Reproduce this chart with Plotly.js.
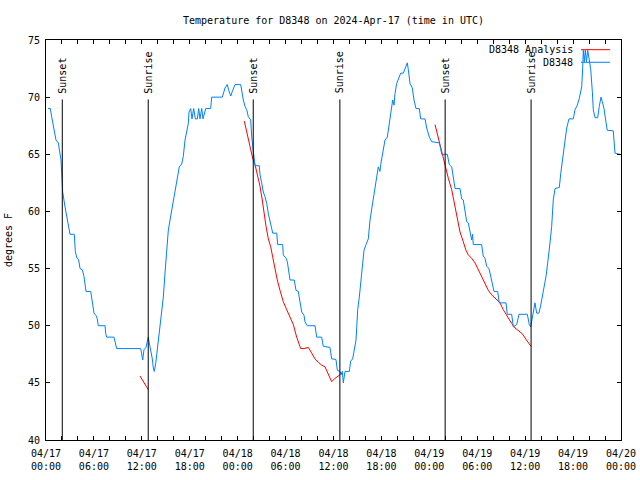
<!DOCTYPE html>
<html>
<head>
<meta charset="utf-8">
<script src="https://cdn.plot.ly/plotly-3.0.1.min.js"></script>
<style>html,body{margin:0;padding:0;background:#fff;}#chart{width:640px;height:480px;}</style>
</head>
<body>
<div id="chart"></div>
<script>
// Hours since 2024-04-17 00:00 UTC
const START_UTC = Date.UTC(2024, 3, 17);

// Observed D8348 temperature (deg F)
const obsHours = [0.25,0.54,0.71,1.00,1.25,1.54,1.75,1.88,2.00,2.09,2.38,2.59,2.79,3.01,3.54,3.67,3.84,4.09,4.26,4.55,4.76,4.88,5.01,5.60,5.72,5.92,6.01,6.26,6.42,6.55,7.39,7.48,7.60,8.51,8.77,8.85,11.86,11.98,12.11,12.27,12.52,12.68,12.81,12.93,13.11,13.31,13.44,13.56,13.74,13.94,14.15,14.27,14.49,14.69,14.90,15.11,15.31,15.53,15.74,16.03,16.24,16.44,16.69,16.99,17.19,17.41,17.62,17.82,17.91,18.12,18.28,18.49,18.70,18.95,19.12,19.28,19.50,19.66,20.00,20.62,20.75,22.08,22.41,22.70,22.88,23.13,23.38,23.67,24.38,24.51,24.71,24.92,25.13,25.33,25.63,25.76,25.88,26.05,26.17,26.71,26.80,27.01,27.21,27.42,27.64,27.84,28.05,28.26,28.39,28.89,29.01,29.64,29.71,30.05,30.22,30.47,30.55,31.09,31.30,31.59,31.81,32.02,32.31,32.43,32.72,33.68,33.90,34.52,34.72,35.56,35.77,36.31,36.48,36.81,36.94,37.10,37.23,37.44,37.98,38.15,38.40,38.57,38.82,38.91,39.03,39.23,39.41,39.66,39.82,40.07,40.36,40.57,40.78,40.98,41.20,41.41,41.61,41.82,41.91,42.16,42.32,42.45,42.74,42.95,43.16,43.41,43.58,43.70,43.91,44.11,44.42,44.74,45.04,45.24,45.37,45.58,45.87,46.08,46.33,46.74,46.92,47.46,47.67,48.00,48.30,49.25,49.42,49.55,50.25,50.50,50.80,51.00,51.22,51.84,52.05,52.25,52.47,52.68,52.88,53.09,53.30,53.42,53.50,54.55,54.75,54.97,55.18,55.47,55.68,55.93,56.10,56.56,56.76,57.60,57.76,58.31,58.52,58.94,59.23,60.27,60.52,60.69,60.82,61.02,61.23,61.44,61.73,61.95,62.15,62.36,62.61,62.82,63.02,63.15,63.32,63.52,63.74,64.28,64.45,64.70,64.99,65.20,65.49,66.03,66.24,66.53,66.78,67.08,67.21,67.28,67.41,67.53,67.68,67.83,68.03,68.21,68.41,68.53,68.75,69.08,69.28,69.50,69.66,69.87,70.08,70.28,71.03,71.25,71.87];
const obsTemp = [69.0,69.0,68.3,67.3,66.25,66.0,65.1,64.5,62.8,61.7,60.4,59.5,58.8,58.0,58.0,56.5,56.0,55.75,55.0,54.9,54.3,53.7,53.0,53.0,52.4,51.7,51.1,50.9,50.6,50.0,50.0,49.3,49.0,49.0,48.3,48.0,48.0,47.3,47.0,47.9,48.1,48.6,49.0,48.5,47.9,47.1,46.3,46.0,46.7,47.9,49.0,49.6,51.4,52.5,54.6,56.5,58.3,59.25,60.1,61.0,61.9,62.9,63.9,64.15,64.8,66.25,67.1,67.7,68.7,69.0,68.1,69.0,68.1,68.1,69.0,68.1,69.0,68.1,69.0,69.0,70.0,70.0,70.8,71.1,70.6,70.1,70.6,71.1,71.1,70.5,69.75,69.2,68.9,68.3,68.0,66.5,65.7,64.8,64.0,64.0,63.2,62.5,61.7,61.3,60.7,59.8,59.1,58.5,58.1,58.1,57.1,57.1,56.2,55.9,55.6,54.4,54.0,54.0,53.1,53.0,52.1,51.2,50.9,50.35,50.0,50.0,49.0,49.0,48.2,48.1,47.1,47.05,46.1,46.0,45.7,46.0,45.0,46.0,46.0,46.9,47.1,47.9,48.75,49.9,51.4,52.5,53.7,55.5,56.6,57.1,57.6,59.25,60.1,61.0,61.9,63.0,63.9,63.5,64.1,65.1,66.0,66.25,66.5,67.4,68.6,69.75,69.3,70.3,71.2,71.5,72.1,72.1,72.7,73.0,72.4,71.2,70.8,69.75,69.0,69.0,68.1,68.1,67.3,66.5,66.1,66.0,65.5,65.0,65.0,64.1,63.9,63.0,62.0,62.0,61.1,61.0,59.8,59.1,59.0,58.1,57.5,58.0,57.1,57.1,56.1,55.9,55.2,55.0,54.3,53.4,53.0,53.0,52.0,52.0,51.0,51.0,49.9,50.1,51.0,51.0,50.1,49.9,50.5,51.2,52.0,51.1,51.1,51.8,52.5,53.3,54.3,55.5,56.5,57.5,58.7,61.0,62.0,62.1,63.3,64.8,66.25,67.3,68.1,68.1,68.9,69.3,69.9,70.9,72.7,74.1,73.1,74.1,73.1,74.1,73.25,72.4,70.5,68.9,68.2,68.2,69.2,70.0,69.6,69.0,68.0,67.1,67.05,65.1,65.0];

// Analysis (three overnight segments, null = gap)
const anaHours = [11.77,12.27,12.81,null,
  24.83,25.21,25.54,25.88,26.17,26.46,26.80,27.08,27.30,27.55,27.84,28.14,28.39,28.68,28.96,29.30,29.71,30.14,30.55,30.97,31.39,31.72,31.89,32.31,32.85,33.27,33.68,34.10,34.52,34.94,35.35,35.77,36.19,36.81,null,
  48.71,49.12,49.55,49.96,50.38,50.80,51.22,51.50,51.84,52.25,52.59,52.88,53.30,53.72,54.13,54.55,54.97,55.38,55.81,56.35,56.85,57.26,57.76,58.31,58.73,59.14,59.64,60.11,60.40,60.73];
const anaTemp = [45.6,45.0,44.4,null,
  67.9,66.7,65.7,64.65,64.1,63.3,62.2,61.0,59.8,58.7,57.6,56.9,56.0,54.9,54.0,53.1,52.1,51.4,50.8,50.1,49.0,48.3,48.0,48.0,48.1,47.6,47.1,46.8,46.55,46.4,45.8,45.1,45.4,45.7,null,
  67.6,66.4,65.2,63.9,62.9,61.9,60.4,59.25,58.2,57.35,56.6,56.2,55.9,55.5,54.9,54.2,53.6,53.1,52.7,52.3,52.0,51.4,50.8,50.2,49.8,49.6,49.3,48.8,48.5,48.2];

// Sun events (hours since start)
const sunsetHours = [2.04, 25.95, 49.98];
const sunriseHours = [12.80, 36.80, 60.74];

const seriesNames = ['D8348 Analysis', 'D8348'];
const seriesColors = ['#ff0000', '#0080ff'];

function hToDate(h) {
  if (h === null) return null;
  const d = new Date(START_UTC + Math.round(h * 3600000));
  return d.toISOString().replace('T', ' ').slice(0, 19);
}

const FONT = 'DejaVu Sans Mono, Liberation Mono, monospace';

const traces = [
  {x: anaHours.map(hToDate), y: anaTemp, type: 'scatter', mode: 'lines', name: seriesNames[0],
   line: {color: seriesColors[0], width: 1}, connectgaps: false},
  {x: obsHours.map(hToDate), y: obsTemp, type: 'scatter', mode: 'lines', name: seriesNames[1],
   line: {color: seriesColors[1], width: 1}}
];

const shapes = [];
const annotations = [];
const LINE_TOP = 69.8;
function addSun(h, label) {
  const xd = hToDate(h);
  shapes.push({type: 'line', xref: 'x', yref: 'y', x0: xd, x1: xd, y0: 40, y1: LINE_TOP,
               line: {color: '#000', width: 1}});
  annotations.push({xref: 'x', yref: 'y', x: xd, y: LINE_TOP, text: label, showarrow: false,
                    textangle: -90, xanchor: 'center', yanchor: 'bottom', yshift: 4,
                    font: {family: FONT, size: 10, color: '#000'}});
}
sunsetHours.forEach(h => addSun(h, 'Sunset'));
sunriseHours.forEach(h => addSun(h, 'Sunrise'));

// Manual legend (text right-aligned, sample line to the right)
const legY = [0.9758, 0.9443];
seriesNames.forEach((nm, i) => {
  annotations.push({xref: 'paper', yref: 'paper', x: 0.9195, y: legY[i], text: nm, showarrow: false,
                    xanchor: 'right', yanchor: 'middle', font: {family: FONT, size: 10, color: '#000'}});
  shapes.push({type: 'line', xref: 'paper', yref: 'paper', x0: 0.9304, x1: 0.9809, y0: legY[i], y1: legY[i],
               line: {color: seriesColors[i], width: 1}});
});

const layout = {
  width: 640, height: 480,
  margin: {l: 46, r: 19, t: 40, b: 40, pad: 0},
  paper_bgcolor: '#fff', plot_bgcolor: '#fff',
  showlegend: false,
  font: {family: FONT, size: 10, color: '#000'},
  title: {text: 'Temperature for D8348 on 2024-Apr-17 (time in UTC)', x: 0.5, xref: 'paper',
          y: 1 - 20 / 480, yref: 'container', yanchor: 'middle', xanchor: 'center',
          font: {family: FONT, size: 10, color: '#000'}},
  xaxis: {type: 'date', range: ['2024-04-17 00:00:00', '2024-04-20 00:00:00'],
          tick0: '2024-04-17 00:00:00', dtick: 6 * 3600000, tickformat: '%m/%d<br>%H:%M',
          ticks: 'inside', ticklen: 4, tickcolor: '#000', showline: true, linecolor: '#000', linewidth: 1,
          mirror: 'ticks', showgrid: false, zeroline: false, ticklabelstandoff: 4,
          minor: {dtick: 2 * 3600000, ticks: 'inside', ticklen: 4, tickcolor: '#000', showgrid: false},
          tickfont: {family: FONT, size: 10, color: '#000'}, automargin: false},
  yaxis: {range: [40, 75], dtick: 5, tick0: 40, ticks: 'inside', ticklen: 4, tickcolor: '#000',
          showline: true, linecolor: '#000', linewidth: 1, mirror: 'ticks', showgrid: false, zeroline: false,
          ticklabelstandoff: 3,
          tickfont: {family: FONT, size: 10, color: '#000'}, automargin: false,
          title: {text: 'degrees F', font: {family: FONT, size: 10, color: '#000'}, standoff: 13}},
  shapes: shapes,
  annotations: annotations
};

Plotly.newPlot('chart', traces, layout, {staticPlot: true, displayModeBar: false});
</script>
</body>
</html>
